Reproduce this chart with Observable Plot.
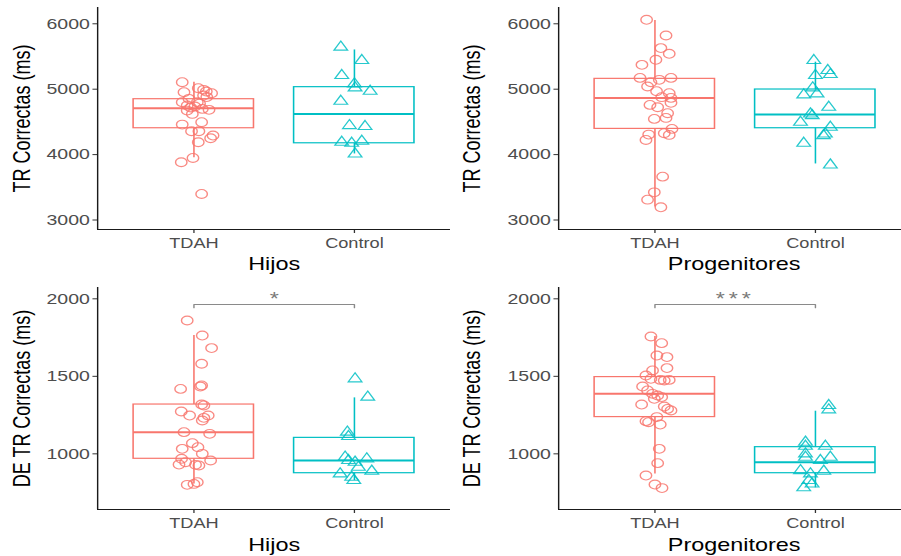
<!DOCTYPE html>
<html><head><meta charset="utf-8">
<script src="https://cdn.jsdelivr.net/npm/d3@7"></script>
<script src="https://cdn.jsdelivr.net/npm/@observablehq/plot@0.6"></script>
<style>
body{margin:0;background:#fff;font-family:"Liberation Sans",Arial,sans-serif}
#grid{position:relative;width:901px;height:556px;overflow:hidden;background:#fff}
.panel{position:absolute;overflow:hidden}
.panel svg{transform:scaleX(1.3);transform-origin:0 0;display:block}
</style></head><body><div id="grid"></div>
<script>
const groups = ["TDAH", "Control"];
const colors = ["#F8766D", "#00BFC4"];
const symbols = ["circle", "triangle"];
const xTitles = ["Hijos", "Progenitores", "Hijos", "Progenitores"];
const yTitles = ["TR Correctas (ms)", "TR Correctas (ms)", "DE TR Correctas (ms)", "DE TR Correctas (ms)"];
const yTicksTR = [3000, 4000, 5000, 6000];
const yTicksDE = [1000, 1500, 2000];
const sigLabels = [null, null, "*", "***"];
const sigBracket = [1963, 1942];

// points: [value (ms), horizontal jitter (category units)]
const hijosTR_TDAH = [[5107,-0.073],[5015,0.027],[4954,-0.062],[4964,0.077],[4939,0.110],[4903,0.060],[4852,-0.031],[4801,-0.073],[4750,-0.042],[4735,0.006],[4699,0.052],[4684,0.094],[4622,-0.010],[4673,-0.042],[4801,0.021],[4459,-0.073],[4495,0.048],[4357,-0.015],[4357,0.031],[4291,0.119],[4250,0.104],[4189,0.027],[3949,-0.006],[3883,-0.079],[3398,0.048],[4780,0.035],[4720,-0.020],[4880,0.080],[4990,0.060]];
const hijosTR_Control = [[5643,-0.085],[5439,0.046],[5209,-0.079],[5082,0.000],[5020,0.004],[4969,0.098],[4816,-0.085],[4444,-0.031],[4429,0.066],[4189,-0.079],[4173,-0.017],[4204,0.046],[4010,0.004]];
const progTR_TDAH = [[6061,-0.052],[5821,0.069],[5628,0.037],[5541,0.089],[5449,0.006],[5372,-0.081],[5173,-0.093],[5173,0.100],[5143,0.027],[5107,-0.025],[5041,-0.046],[4969,0.010],[4939,0.089],[4878,0.042],[4867,0.100],[4791,0.100],[4760,-0.031],[4724,0.017],[4633,0.079],[4561,0.069],[4546,-0.004],[4393,0.106],[4327,0.058],[4301,0.089],[4306,-0.039],[4224,-0.056],[3663,0.048],[3423,-0.004],[3311,-0.046],[3194,0.037]];
const progTR_Control = [[5439,-0.010],[5209,0.000],[5286,0.077],[5224,0.093],[5020,-0.017],[4913,-0.073],[4929,0.010],[4724,0.083],[4622,-0.031],[4597,-0.020],[4495,-0.093],[4418,0.093],[4316,0.062],[4290,0.050],[4173,-0.073],[3842,0.093]];
const hijosDE_TDAH = [[1860,-0.042],[1763,0.052],[1682,0.110],[1581,0.048],[1419,-0.083],[1441,0.048],[1434,0.040],[1318,0.048],[1312,0.062],[1273,-0.079],[1247,-0.027],[1247,0.089],[1232,0.062],[1215,0.052],[1140,-0.062],[1129,0.098],[1069,-0.010],[1032,-0.073],[1043,0.025],[1000,0.052],[968,-0.077],[957,0.104],[946,-0.052],[931,-0.093],[929,0.010],[925,0.031],[817,0.021],[806,0.000],[800,-0.042]];
const hijosDE_Control = [[1484,0.004],[1366,0.083],[1140,-0.044],[1112,-0.037],[979,-0.058],[957,-0.037],[968,0.077],[946,0.004],[914,0.025],[888,0.108],[871,-0.089],[849,-0.017],[828,-0.004]];
const progDE_TDAH = [[1757,-0.025],[1714,0.042],[1634,0.012],[1624,0.075],[1553,0.075],[1538,-0.015],[1505,-0.056],[1484,-0.025],[1477,0.033],[1473,0.058],[1477,0.089],[1434,-0.077],[1409,-0.046],[1387,-0.015],[1376,0.017],[1366,0.042],[1355,-0.004],[1318,-0.083],[1305,0.058],[1290,0.079],[1280,0.100],[1237,0.012],[1211,-0.056],[1204,-0.040],[1189,0.033],[1032,0.027],[940,0.017],[860,-0.056],[802,0.000],[779,0.044]];
const progDE_Control = [[1312,0.083],[1284,0.083],[1075,-0.062],[1049,-0.062],[1049,0.062],[1000,-0.062],[978,0.093],[978,-0.062],[957,0.031],[892,-0.093],[888,0.052],[871,-0.031],[828,-0.041],[806,-0.021],[781,-0.073]];

// boxplots: [lower whisker, Q1, median, Q3, upper whisker] for TDAH, Control
const hijosTR_box = [[3950, 4403, 4709, 4847, 5107], [4010, 4173, 4622, 5031, 5600]];
const progTR_box  = [[3200, 4393, 4867, 5158, 6051], [3857, 4403, 4612, 4995, 5413]];
const hijosDE_box = [[805, 968, 1140, 1318, 1763], [828, 875, 957, 1103, 1361]];
const progDE_box  = [[870, 1237, 1387, 1495, 1757], [781, 875, 946, 1043, 1275]];

const S = 1.3;
const panels = [
  {left: 0,   top: 0,   w: 450, ml: 97,  yDom: [2855, 6249], mt: 7, mb: 49, ticks: yTicksTR, pts: [hijosTR_TDAH, hijosTR_Control], box: hijosTR_box, tdy: 35, xdx: 0},
  {left: 450, top: 0,   w: 451, ml: 108, yDom: [2855, 6249], mt: 7, mb: 49, ticks: yTicksTR, pts: [progTR_TDAH, progTR_Control], box: progTR_box, tdy: 35, xdx: 4},
  {left: 0,   top: 278, w: 450, ml: 97,  yDom: [641, 2073],  mt: 9, mb: 47, ticks: yTicksDE, pts: [hijosDE_TDAH, hijosDE_Control], box: hijosDE_box, tdy: 36, xdx: 0},
  {left: 450, top: 278, w: 451, ml: 108, yDom: [641, 2073],  mt: 9, mb: 47, ticks: yTicksDE, pts: [progDE_TDAH, progDE_Control], box: progDE_box, tdy: 36, xdx: 4}
];

const grid = document.getElementById("grid");
panels.forEach((p, i) => {
  const W = p.w / S;
  const mL = p.ml / S;
  const unit = 160.5 / S;
  const xDom = [0.4, 0.4 + (W - mL) / unit];
  const marks = [];
  groups.forEach((g, gi) => {
    const b = p.box[gi];
    const box = [{x: gi + 1, lo: b[0], q1: b[1], med: b[2], q3: b[3], hi: b[4]}];
    const col = colors[gi];
    marks.push(Plot.ruleX(box, {x: "x", y1: "lo", y2: "hi", stroke: col, strokeWidth: 1.2}));
    marks.push(Plot.rect(box, {x1: d => d.x - 0.375, x2: d => d.x + 0.375, y1: "q1", y2: "q3", fill: "white", stroke: col, strokeWidth: 1.2}));
    marks.push(Plot.ruleY(box, {y: "med", x1: d => d.x - 0.375, x2: d => d.x + 0.375, stroke: col, strokeWidth: 2}));
  });
  groups.forEach((g, gi) => {
    const dots = p.pts[gi].map(([v, j]) => ({x: gi + 1 + j, v}));
    marks.push(Plot.dot(dots, {x: "x", y: "v", r: gi === 0 ? 4.4 : 3.9, symbol: symbols[gi], stroke: colors[gi], fill: "none", strokeWidth: 1.1, strokeOpacity: 0.85}));
  });
  if (sigLabels[i]) {
    const br = [[1, sigBracket[1]], [1, sigBracket[0]], [2, sigBracket[0]], [2, sigBracket[1]]];
    marks.push(Plot.line(br, {x: d => d[0], y: d => d[1], stroke: "#8a8a8a", strokeWidth: 1.1}));
    marks.push(Plot.text([sigLabels[i]], {x: () => 1.5, y: () => sigBracket[0], dy: -5, fontSize: 18, fill: "#7a7a7a"}));
  }
  marks.push(Plot.axisY({ticks: p.ticks, tickFormat: d => String(d), tickSize: 3.5, tickPadding: 2.5, fontSize: 15, stroke: "#333333", fill: "#4d4d4d", label: null}));
  marks.push(Plot.axisX({ticks: [1, 2], tickFormat: d => groups[d - 1], tickSize: 4, tickPadding: 5, fontSize: 14, stroke: "#333333", fill: "#4d4d4d", label: null}));
  marks.push(Plot.ruleY([p.yDom[0]], {stroke: "#1a1a1a", strokeWidth: 1.1}));
  marks.push(Plot.ruleX([xDom[0]], {stroke: "#1a1a1a", strokeWidth: 1.1}));
  marks.push(Plot.text([yTitles[i]], {frameAnchor: "left", textAnchor: "middle", lineAnchor: "middle", rotate: -90, dx: -(mL - 17), fontSize: 18, fill: "black"}));
  marks.push(Plot.text([xTitles[i]], {frameAnchor: "bottom", textAnchor: "middle", lineAnchor: "middle", dy: p.tdy, dx: p.xdx / S, fontSize: 18, fill: "black"}));

  const svg = Plot.plot({
    width: W, height: 278,
    marginLeft: mL, marginRight: 0, marginTop: p.mt, marginBottom: p.mb,
    x: {domain: xDom},
    y: {domain: p.yDom},
    style: {fontFamily: "'Liberation Sans', Arial, sans-serif", background: "white", overflow: "visible"},
    marks
  });
  svg.querySelectorAll("text").forEach(t => {
    if (t.textContent === "***") t.style.letterSpacing = "3px";
  });
  const div = document.createElement("div");
  div.className = "panel";
  div.style.left = p.left + "px";
  div.style.top = p.top + "px";
  div.style.width = p.w + "px";
  div.style.height = "278px";
  div.appendChild(svg);
  grid.appendChild(div);
});
</script></body></html>
